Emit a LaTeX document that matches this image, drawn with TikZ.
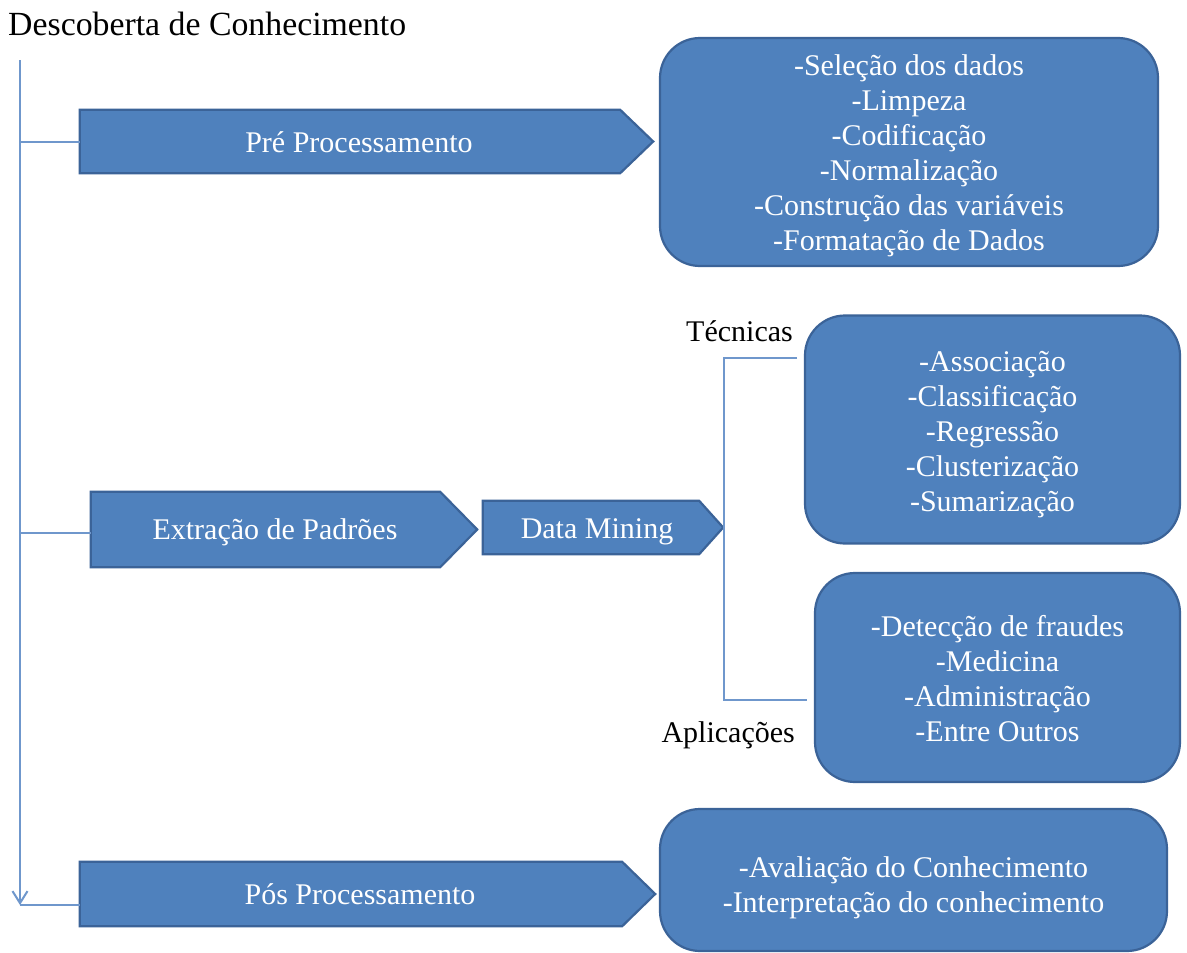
\documentclass[tikz,border=0pt]{standalone}
\usepackage{fontspec}
\setmainfont{Liberation Serif}
\usetikzlibrary{calc,arrows.meta}
\pgfdeclarelayer{background}
\pgfsetlayers{background,main}
\definecolor{boxfill}{HTML}{4F81BD}
\definecolor{boxline}{HTML}{3B6398}
\definecolor{connline}{HTML}{6F97CC}
\tikzset{
  conn/.style={draw=connline, line width=2pt},
  shapefill/.style={fill=boxfill, draw=boxline, line width=2.2pt, line join=miter},
  pentnode/.style={rectangle, inner sep=0pt},
  penttext/.style={anchor=base, inner sep=0pt, text=white, font=\fontsize{30}{35}\selectfont},
  roundbox/.style={rectangle, rounded corners=40pt, fill=boxfill, draw=boxline, line width=2.2pt, inner sep=0pt},
  boxtext/.style={text=white, align=center, inner sep=0pt, font=\fontsize{30}{35}\selectfont},
  plainlabel/.style={inner sep=0pt, text=black, font=\fontsize{30}{35}\selectfont},
}
\newcommand\pentshape[2]{\filldraw[shapefill] (#1.north west) -- ($(#1.north east)+(-#2,0)$) -- (#1.east) -- ($(#1.south east)+(-#2,0)$) -- (#1.south west) -- cycle;}
\begin{document}
\begin{tikzpicture}[x=1pt,y=-1pt]
\useasboundingbox (0,0) rectangle (1187,953);

% title
\node[plainlabel, anchor=base west, font=\fontsize{33.8}{38}\selectfont] (title) at (8,35) {Descoberta de Conhecimento};

% arrow-shaped steps
\node[pentnode, minimum width=573pt, minimum height=63pt] (pre) at (366.5,141.5) {};
\node[pentnode, minimum width=386pt, minimum height=75pt] (extr) at (284,529.5) {};
\node[pentnode, minimum width=240pt, minimum height=53pt] (dm) at (603,527.5) {};
\node[pentnode, minimum width=575pt, minimum height=64pt] (pos) at (367.5,894) {};
\begin{pgfonlayer}{background}
\fill[white] (0,0) rectangle (1187,953);
\pentshape{pre}{33}
\pentshape{extr}{37}
\pentshape{dm}{24}
\pentshape{pos}{33}
\end{pgfonlayer}
\node[penttext] (pretxt) at (359,152) {Pré Processamento};
\node[penttext] (extrtxt) at (275,539) {Extração de Padrões};
\node[penttext] (dmtxt) at (597,538) {Data Mining};
\node[penttext] (postxt) at (360,904) {Pós Processamento};

% rounded boxes
\node[roundbox, minimum width=498pt, minimum height=228pt] (prebox) at (909,152) {};
\node[boxtext] (pretext) at (909,156)
  {-Seleção dos dados\\-Limpeza\\-Codificação\\-Normalização\\-Construção das variáveis\\-Formatação de Dados};
\node[roundbox, minimum width=375pt, minimum height=228pt] (tec) at (992.5,429.5) {};
\node[boxtext] (tectext) at (992.5,434.5)
  {-Associação\\-Classificação\\-Regressão\\-Clusterização\\-Sumarização};
\node[roundbox, minimum width=365pt, minimum height=209pt] (apl) at (997.5,677.5) {};
\node[boxtext] (apltext) at (997.5,678.5)
  {-Detecção de fraudes\\-Medicina\\-Administração\\-Entre Outros};
\node[roundbox, minimum width=507pt, minimum height=142pt] (posbox) at (913.5,880) {};
\node[boxtext] (postext) at (913.5,888)
  {-Avaliação do Conhecimento\\-Interpretação do conhecimento};

% labels
\node[plainlabel, anchor=base east] (tlabel) at (793,341) {Técnicas};
\node[plainlabel, anchor=base east] (alabel) at (795,742) {Aplicações};

% main spine
\coordinate (top) at (20,60);
\coordinate (bot) at (20,905);
\draw[conn, -{Straight Barb[length=12pt,width=15pt,line width=2pt]}] (top) -- (bot);
\draw[conn] (bot) -- (bot -| pos.west);
\draw[conn] (top |- pre.west) -- (pre.west);
\coordinate (ebr) at (20,533);
\draw[conn] (ebr) -- (ebr -| extr.west);

% bracket from Data Mining
\coordinate (bt) at (724,358);
\coordinate (bb) at (724,700);
\coordinate (tl) at (797,358);
\coordinate (bl) at (807,700);
\draw[conn, line width=1.8pt] (tl) -- (bt) -- (bb) -- (bl);
\end{tikzpicture}
\end{document}
